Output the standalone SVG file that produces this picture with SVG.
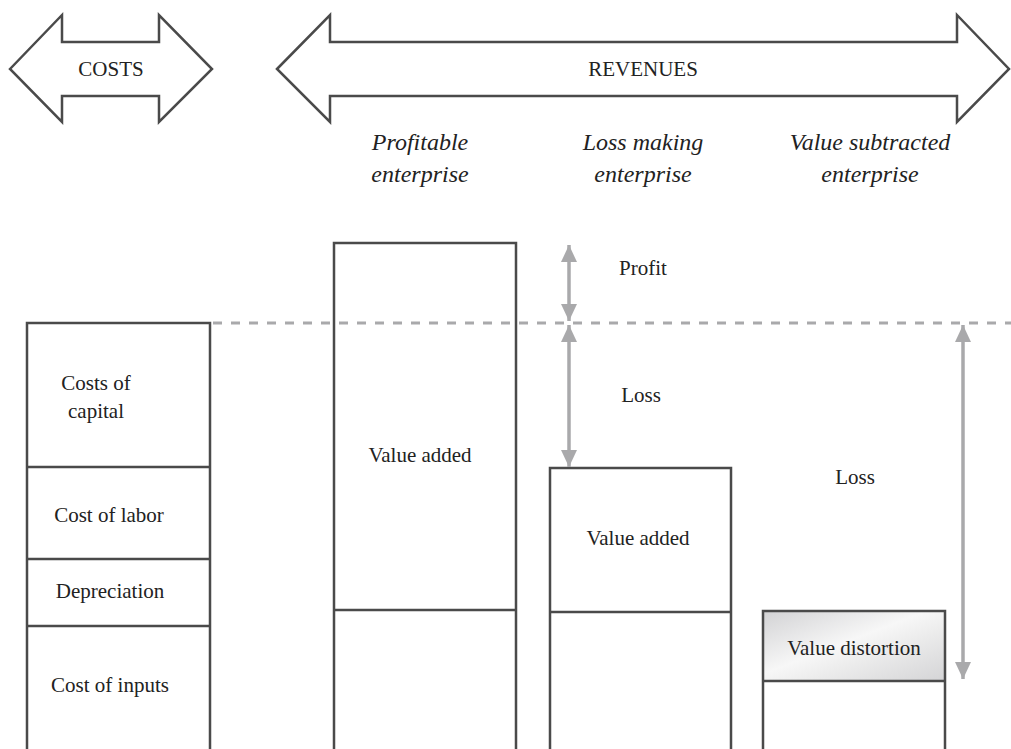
<svg xmlns="http://www.w3.org/2000/svg" width="1011" height="749" viewBox="0 0 1011 749">
<style>
text{font-family:"Liberation Serif","DejaVu Serif",serif;font-size:21px;fill:#222;text-anchor:middle}
.it{font-style:italic;font-size:24px}
.box{fill:none;stroke:#4a4a4a;stroke-width:2.5}
.big{fill:#fff;stroke:#4a4a4a;stroke-width:2.5;stroke-linejoin:miter}
.gl{stroke:#a9a9ab;stroke-width:3.5;fill:none}
.dash{stroke:#a9a9ab;stroke-width:3;stroke-dasharray:9 9;fill:none}
</style>
<defs>
<linearGradient id="shine" x1="0" y1="0" x2="1" y2="1">
<stop offset="0" stop-color="#d2d2d4"/>
<stop offset="0.45" stop-color="#f7f7f7"/>
<stop offset="0.62" stop-color="#ececec"/>
<stop offset="1" stop-color="#d4d4d6"/>
</linearGradient>
<marker id="ah" viewBox="0 0 17 16" refX="17" refY="8" markerWidth="17" markerHeight="16" markerUnits="userSpaceOnUse" orient="auto-start-reverse">
<path d="M0,0 L17,8 L0,16 Z" fill="#a9a9ab"/>
</marker>
</defs>

<g id="costs-arrow">
<polygon class="big" points="10,69 62,15 62,42 159,42 159,15 212,69 159,122 159,96 62,96 62,122"/>
<text x="111" y="76">COSTS</text>
</g>
<g id="revenues-arrow">
<polygon class="big" points="277,69 330,15 330,42 957,42 957,15 1009,69 957,122 957,96 330,96 330,122"/>
<text x="643" y="76">REVENUES</text>
</g>

<g id="headers">
<text class="it" x="420" y="150">Profitable</text>
<text class="it" x="420" y="182">enterprise</text>
<text class="it" x="643" y="150">Loss making</text>
<text class="it" x="643" y="182">enterprise</text>
<text class="it" x="870" y="150">Value subtracted</text>
<text class="it" x="870" y="182">enterprise</text>
</g>

<g id="costs-column">
<path class="box" d="M27,750 V323 H210 V750"/>
<line class="box" x1="27" y1="467" x2="210" y2="467"/>
<line class="box" x1="27" y1="559" x2="210" y2="559"/>
<line class="box" x1="27" y1="626" x2="210" y2="626"/>
<text x="96" y="390">Costs of</text>
<text x="96" y="418">capital</text>
<text x="109" y="522">Cost of labor</text>
<text x="110" y="598">Depreciation</text>
<text x="110" y="692">Cost of inputs</text>
</g>

<g id="profitable-column">
<path class="box" d="M334,750 V243 H516 V750"/>
<line class="box" x1="334" y1="610" x2="516" y2="610"/>
<text x="420" y="462">Value added</text>
</g>

<g id="loss-column">
<path class="box" d="M550,750 V468 H731 V750"/>
<line class="box" x1="550" y1="612" x2="731" y2="612"/>
<text x="638" y="545">Value added</text>
</g>

<g id="subtracted-column">
<rect x="763" y="611" width="182" height="70" fill="url(#shine)" stroke="none"/>
<path class="box" d="M763,750 V611 H945 V750"/>
<line class="box" x1="763" y1="681" x2="945" y2="681"/>
<text x="854" y="655">Value distortion</text>
</g>

<g id="connectors">
<line class="dash" x1="213" y1="323" x2="1011" y2="323"/>
<line class="gl" x1="569" y1="245" x2="569" y2="321" marker-start="url(#ah)" marker-end="url(#ah)"/>
<line class="gl" x1="569" y1="325" x2="569" y2="467" marker-start="url(#ah)" marker-end="url(#ah)"/>
<line class="gl" x1="963" y1="325" x2="963" y2="679" marker-start="url(#ah)" marker-end="url(#ah)"/>
</g>

<g id="labels">
<text x="643" y="275">Profit</text>
<text x="641" y="402">Loss</text>
<text x="855" y="484">Loss</text>
</g>
</svg>
